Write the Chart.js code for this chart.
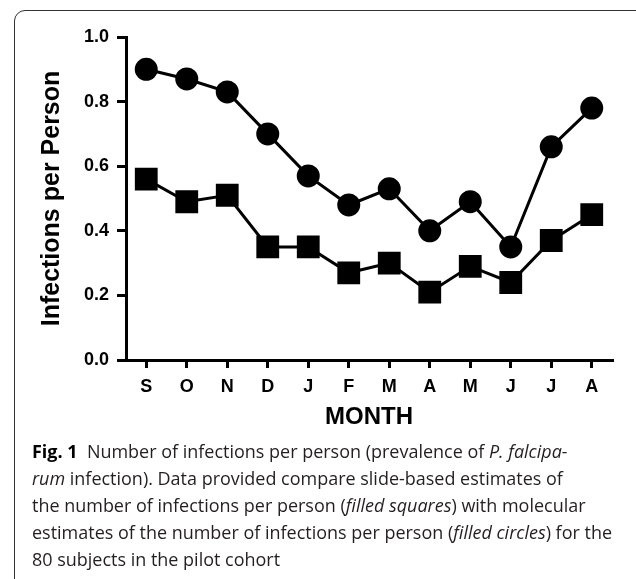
<!DOCTYPE html>
<html lang="en">
  <head>
    <meta charset="utf-8" />
    <title>Infections per person</title>
    <style>
      body { margin: 0; background: #fff; width: 636px; height: 579px; overflow: hidden; position: relative; }
      #frame { position: absolute; left: 14px; top: 10px; width: 700px; height: 700px;
               border: 1px solid #333; border-top-left-radius: 11px; box-sizing: border-box; }
      #chartBox { position: absolute; left: 0; top: 0; }
      #caption { position: absolute; left: 32px; top: 438px; font-family: "Open Sans", sans-serif;
                 font-size: 18px; line-height: 27px; color: #231f20; white-space: nowrap;
                 transform-origin: 0 0; }
      #caption b { color: #000; }
    </style>
  </head>
  <body>
    <div id="frame"></div>
    <div id="chartBox"><canvas id="myChart" width="636" height="440"></canvas></div>
    <div id="caption">
      <span class="ln"><b>Fig. 1</b>&nbsp; Number of infections per person (prevalence of <i>P. falcipa-</i></span><br>
      <span class="ln"><i>rum</i> infection). Data provided compare slide-based estimates of</span><br>
      <span class="ln">the number of infections per person (<i>filled squares</i>) with molecular</span><br>
      <span class="ln" id="longest">estimates of the number of infections per person (<i>filled circles</i>) for the</span><br>
      <span class="ln">80 subjects in the pilot cohort</span>
    </div>
  <script src="https://cdn.jsdelivr.net/npm/chart.js@4.4.1/dist/chart.umd.min.js"></script>
  <script>
      var months = ["S", "O", "N", "D", "J", "F", "M", "A", "M", "J", "J", "A"];
      // molecular estimates (filled circles)
      var molecular = [0.90, 0.87, 0.83, 0.70, 0.57, 0.48, 0.53, 0.40, 0.49, 0.35, 0.66, 0.78];
      // slide-based estimates (filled squares)
      var slide = [0.56, 0.49, 0.51, 0.35, 0.35, 0.27, 0.30, 0.21, 0.29, 0.24, 0.37, 0.45];
      var yTicks = [0.0, 0.2, 0.4, 0.6, 0.8, 1.0];

      // squeeze the caption to the width it has in the figure
      var cap = document.getElementById("caption");
      var w = document.getElementById("longest").getBoundingClientRect().width;
      cap.style.transform = "scaleX(" + (580 / w) + ")";

      var fam = "'Liberation Sans', Arial, sans-serif";
      var tickFont = { family: fam, size: 18, weight: "bold" };

      function createChart() {
        var ctx = document.getElementById("myChart").getContext("2d");
        new Chart(ctx, {
          type: "line",
          data: {
            labels: months,
            datasets: [
              {
                data: molecular,
                borderColor: "#000",
                backgroundColor: "#000",
                borderWidth: 3,
                pointStyle: "circle",
                pointRadius: 10,
                pointHoverRadius: 10,
                tension: 0,
                clip: false,
              },
              {
                data: slide,
                borderColor: "#000",
                backgroundColor: "#000",
                borderWidth: 3,
                pointStyle: "rect",
                pointRadius: 14,
                pointHoverRadius: 14,
                tension: 0,
                clip: false,
              },
            ],
          },
          options: {
            responsive: false,
            animation: false,
            events: [],
            layout: { padding: { left: 0, right: 24, top: 37, bottom: 0 } },
            plugins: { legend: { display: false }, tooltip: { enabled: false } },
            scales: {
              x: {
                offset: true,
                afterFit: function (scale) { scale.height = 80; },
                border: { display: true, color: "#000", width: 3 },
                grid: { display: true, drawOnChartArea: false, drawTicks: true, tickLength: 8,
                        color: "#000", lineWidth: 3, offset: false },
                ticks: { color: "#000", font: tickFont, padding: 8, maxRotation: 0, autoSkip: false },
                title: { display: true, text: "MONTH", color: "#000",
                         font: { family: fam, size: 24, weight: "bold" },
                         padding: { top: 0, bottom: 8 } },
              },
              y: {
                min: 0,
                max: 1,
                afterFit: function (scale) { scale.width = 126; },
                afterBuildTicks: function (scale) {
                  scale.ticks = yTicks.map(function (v) { return { value: v }; });
                },
                border: { display: true, color: "#000", width: 3 },
                grid: { display: true, drawOnChartArea: false, drawTicks: true, tickLength: 9,
                        color: "#000", lineWidth: 3 },
                ticks: {
                  color: "#000",
                  font: tickFont,
                  padding: 8,
                  callback: function (v) { return Number(v).toFixed(1); },
                },
                title: { display: true, text: "Infections per Person", color: "#000",
                         font: { family: fam, size: 25, weight: "bold" },
                         padding: { top: 37, bottom: 0 } },
              },
            },
          },
        });
      }

      createChart();
  </script>
  </body>
</html>
